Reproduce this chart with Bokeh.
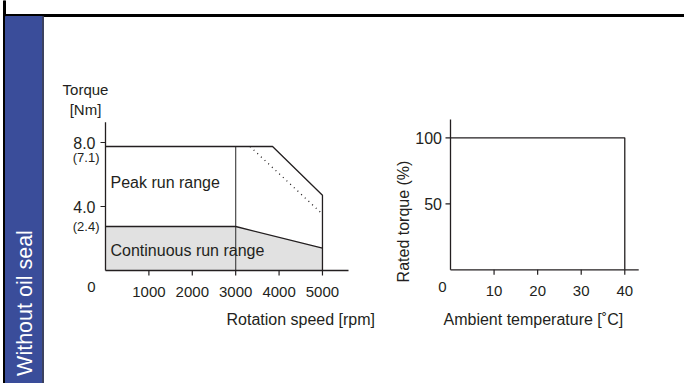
from math import pi
from bokeh.plotting import figure
from bokeh.models import Range1d
from bokeh.core.properties import value
from bokeh.embed import file_html
from bokeh.resources import INLINE

FONT = "Liberation Sans"
INK = "#231f20"
BLUE = "#3a4d9a"

# ---------------- data ----------------
# Torque vs rotation speed
speed_ticks = [1000, 2000, 3000, 4000, 5000]
speed_tick_labels = ["1000", "2000", "3000", "4000", "5000"]
torque_ticks = [4.0, 8.0]
torque_tick_labels = ["4.0", "8.0"]
torque_notes = ["(7.1)", "(2.4)"]
torque_note_pos = [7.08, 2.77]
peak_speed = [0, 3850, 5000, 5000]
peak_torque = [7.75, 7.75, 4.7, 0.0]
limit_speed = [3330, 4950]
limit_torque = [7.75, 3.65]
cont_speed = [0, 3000, 5000]
cont_torque = [2.75, 2.75, 1.4]
split_speed = [3000, 3000]
split_torque = [0.0, 7.75]
speed_max, torque_max = 5600, 9.27

# Rated torque vs ambient temperature
temp_ticks = [10, 20, 30, 40]
temp_tick_labels = ["10", "20", "30", "40"]
rated_ticks = [50, 100]
rated_tick_labels = ["50", "100"]
temp = [0, 40, 40]
rated = [100, 100, 0]
temp_max, rated_max = 43.2, 113.9

# ---------------- canvas ----------------
W, H = 684, 383
p = figure(width=W, height=H, x_range=Range1d(0, W), y_range=Range1d(0, H),
           output_backend="svg", toolbar_location=None,
           x_axis_type=None, y_axis_type=None, min_border=0)
p.outline_line_color = None
p.background_fill_color = "white"
p.border_fill_color = "white"
p.xgrid.visible = False
p.ygrid.visible = False


def px(X):          # page x -> canvas x
    return X


def py(Y):          # page y -> canvas y (bottom-up)
    return H - Y


def add_chart_ranges(name_x, name_y, X0, Y0, ppx, ppy):
    ox, oy = px(X0), py(Y0)
    p.extra_x_ranges[name_x] = Range1d(-ox / ppx, (W - ox) / ppx)
    p.extra_y_ranges[name_y] = Range1d(-oy / ppy, (H - oy) / ppy)


# chart 1: origin at (105, 270); 43.39 px per 1000 rpm, 16 px per Nm
PPX1, PPY1 = 243 / 5600, 16.0
add_chart_ranges("speed", "torque", 105, 270, PPX1, PPY1)
# chart 2: origin at (450, 269.3); 4.357 px per degC, 1.32 px per %
PPX2, PPY2 = 4.357, 1.32
add_chart_ranges("temp", "rated", 450, 269.3, PPX2, PPY2)

# ---------------- frame decorations ----------------
p.quad(left=[px(3)], right=[W], bottom=[py(16)], top=[py(14)], color="black")
p.quad(left=[px(3)], right=[px(5)], bottom=[0], top=[H], color="black")
p.quad(left=[px(5)], right=[px(42)], bottom=[0], top=[py(16)], color=BLUE)
p.quad(left=[px(42)], right=[px(43)], bottom=[0], top=[py(16)], color="#3c4260")
p.text(x=[px(24.5)], y=[py(302.5)], text=["Without oil seal"], angle=pi / 2,
       text_align="center", text_baseline="middle", text_color="white",
       text_font=value(FONT), text_font_size="21.5px")


def txt(xs, ys, texts, xr, yr, size="16px", align="left", baseline="alphabetic", angle=0):
    p.text(x=xs, y=ys, text=texts, x_range_name=xr, y_range_name=yr,
           text_font=value(FONT), text_font_size=size, text_color=INK,
           text_align=align, text_baseline=baseline, angle=angle)


def axes(xr, yr, ppx, ppy, x_end, y_end, xt, xl, yt, yl, ylab_gap, zero_gap):
    p.segment(x0=[0, 0], y0=[0, 0], x1=[x_end, 0], y1=[0, y_end],
              x_range_name=xr, y_range_name=yr, line_color=INK, line_width=1.3)
    tick = 5
    p.segment(x0=xt, x1=xt, y0=[0] * len(xt), y1=[-tick / ppy] * len(xt),
              x_range_name=xr, y_range_name=yr, line_color=INK, line_width=1.2)
    p.segment(x0=[0] * len(yt), x1=[-tick / ppx] * len(yt), y0=yt, y1=yt,
              x_range_name=xr, y_range_name=yr, line_color=INK, line_width=1.2)
    txt(xt, [-21.5 / ppy] * len(xt), xl, xr, yr, size="15px", align="center")
    txt([-ylab_gap / ppx] * len(yt), yt, yl, xr, yr, size="16px", align="right", baseline="middle")
    txt([-zero_gap / ppx], [-16.7 / ppy], ["0"], xr, yr, size="15px", align="center", baseline="middle")


# ---------------- chart 1: torque vs rotation speed ----------------
S, T = "speed", "torque"
p.varea(x=cont_speed, y1=[0] * len(cont_speed), y2=cont_torque, fill_color="#e1e1e1",
        x_range_name=S, y_range_name=T)
p.line(split_speed, split_torque, line_color="#4a4a4a", line_width=1.2, x_range_name=S, y_range_name=T)
p.line(cont_speed, cont_torque, line_color=INK, line_width=1.3, x_range_name=S, y_range_name=T)
p.line(peak_speed, peak_torque, line_color=INK, line_width=1.3, x_range_name=S, y_range_name=T)
p.line(limit_speed, limit_torque, line_color=INK, line_width=1.3, line_dash="1 4",
       x_range_name=S, y_range_name=T)
axes(S, T, PPX1, PPY1, speed_max, torque_max, speed_ticks, speed_tick_labels,
     torque_ticks, torque_tick_labels, 10, 14)
txt([-6 / PPX1] * 2, torque_note_pos, torque_notes, S, T, size="13px", align="right", baseline="middle")
txt([5 / PPX1], [(270 - 181.7) / PPY1], ["Peak run range"], S, T, baseline="middle")
txt([5 / PPX1], [(270 - 250) / PPY1], ["Continuous run range"], S, T, baseline="middle")
txt([-20 / PPX1], [(270 - 89) / PPY1], ["Torque"], S, T, size="15px", align="center")
txt([-20 / PPX1], [(270 - 109) / PPY1], ["[Nm]"], S, T, size="15px", align="center")
txt([121 / PPX1], [-49 / PPY1], ["Rotation speed [rpm]"], S, T)

# ---------------- chart 2: rated torque vs ambient temperature ----------------
A, R = "temp", "rated"
p.line(temp, rated, line_color=INK, line_width=1.3, x_range_name=A, y_range_name=R)
axes(A, R, PPX2, PPY2, temp_max, rated_max, temp_ticks, temp_tick_labels,
     rated_ticks, rated_tick_labels, 8.5, 8)
txt([-47.3 / PPX2], [48.3 / PPY2], ["Rated torque (%)"], A, R, align="center",
    baseline="middle", angle=pi / 2)
txt([-7 / PPX2], [-49.7 / PPY2], ["Ambient temperature [\u02daC]"], A, R)

open("out.html", "w").write(file_html(p, INLINE))
